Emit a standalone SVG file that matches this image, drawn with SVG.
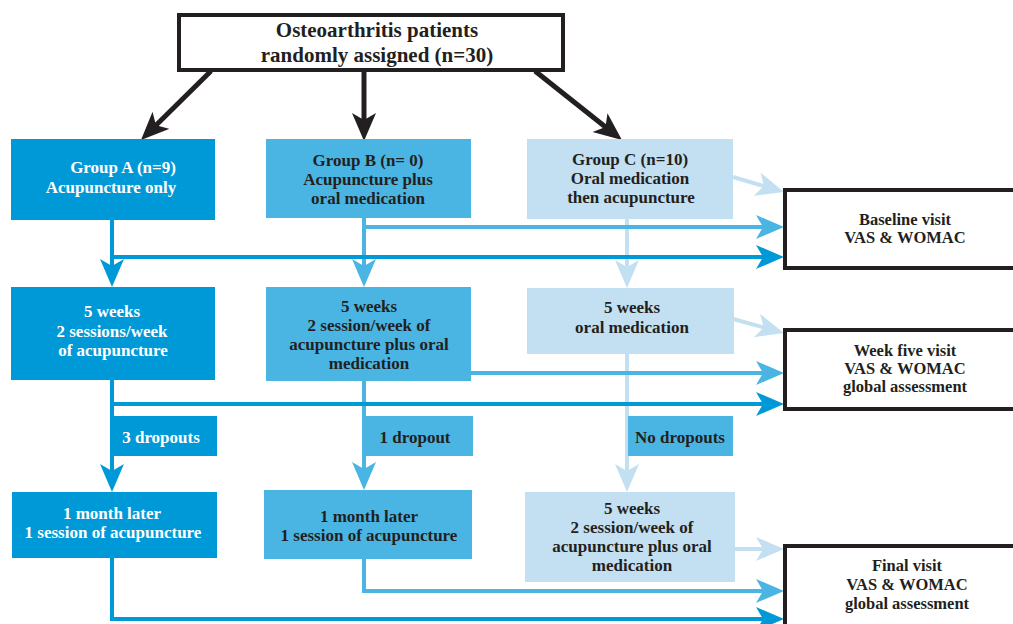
<svg xmlns="http://www.w3.org/2000/svg" width="1013" height="624" viewBox="0 0 1013 624">
<style>
.t{font-family:"Liberation Serif","Times New Roman",serif;font-weight:bold;text-anchor:middle;font-size:17px;fill:#231F20}
.w{fill:#FFFFFF}
.big{font-size:21px}
.v{font-size:16.5px}
.a{fill:#0099D7}
.b{fill:#4AB5E3}
.c{fill:#C3E0F2}
.box{fill:#FFFFFF;stroke:#231F20;stroke-width:4}
.la{fill:none;stroke:#0099D7;stroke-width:4}
.lb{fill:none;stroke:#4AB5E3;stroke-width:4}
.lc{fill:none;stroke:#C3E0F2;stroke-width:4}
.lk{fill:none;stroke:#231F20;stroke-width:5}
</style>
<defs>
<marker id="mA" markerUnits="userSpaceOnUse" markerWidth="30" markerHeight="26" refX="13" refY="12" orient="auto"><path d="M0,0 L28,12 L0,24 L7,12 Z" fill="#0099D7"/></marker>
<marker id="mB" markerUnits="userSpaceOnUse" markerWidth="30" markerHeight="26" refX="13" refY="12" orient="auto"><path d="M0,0 L28,12 L0,24 L7,12 Z" fill="#4AB5E3"/></marker>
<marker id="mC" markerUnits="userSpaceOnUse" markerWidth="30" markerHeight="26" refX="13" refY="12" orient="auto"><path d="M0,0 L28,12 L0,24 L7,12 Z" fill="#C3E0F2"/></marker>
<marker id="mK" markerUnits="userSpaceOnUse" markerWidth="30" markerHeight="26" refX="13" refY="12" orient="auto"><path d="M0,0 L28,12 L0,24 L7,12 Z" fill="#231F20"/></marker>
</defs>

<g id="connectors">
  <!-- black from top -->
  <line class="lk" x1="211" y1="71" x2="151.7" y2="129.5" marker-end="url(#mK)"/>
  <line class="lk" x1="364" y1="71" x2="364" y2="126" marker-end="url(#mK)"/>
  <line class="lk" x1="535" y1="71" x2="610.2" y2="130.7" marker-end="url(#mK)"/>
  <!-- group C (light) -->
  <line class="lc" x1="627" y1="219" x2="627" y2="273" marker-end="url(#mC)"/>
  <line class="lc" x1="627" y1="354" x2="627" y2="477" marker-end="url(#mC)"/>
  <line class="lc" x1="733" y1="177" x2="769.6" y2="187.8" marker-end="url(#mC)"/>
  <line class="lc" x1="733" y1="319" x2="769.5" y2="329" marker-end="url(#mC)"/>
  <line class="lc" x1="735" y1="549" x2="769" y2="549" marker-end="url(#mC)"/>
  <!-- group B (medium) -->
  <line class="lb" x1="364" y1="218" x2="364" y2="272" marker-end="url(#mB)"/>
  <line class="lb" x1="364" y1="381" x2="364" y2="475" marker-end="url(#mB)"/>
  <line class="lb" x1="362" y1="227" x2="769" y2="227" marker-end="url(#mB)"/>
  <line class="lb" x1="471" y1="373" x2="769" y2="373" marker-end="url(#mB)"/>
  <path class="lb" d="M364,559 V591 H769" marker-end="url(#mB)"/>
  <!-- group A (dark) -->
  <line class="la" x1="112" y1="220" x2="112" y2="272" marker-end="url(#mA)"/>
  <line class="la" x1="112" y1="380" x2="112" y2="477" marker-end="url(#mA)"/>
  <line class="la" x1="110" y1="257" x2="769" y2="257" marker-end="url(#mA)"/>
  <line class="la" x1="110" y1="404" x2="769" y2="404" marker-end="url(#mA)"/>
  <path class="la" d="M112,558 V619 H769" marker-end="url(#mA)"/>
</g>

<g id="top">
  <rect class="box" x="179" y="15" width="384" height="55"/>
  <text class="t big" x="377" y="37">Osteoarthritis patients</text>
  <text class="t big" x="377" y="62">randomly assigned (n=30)</text>
</g>

<g id="groupA">
  <rect class="a" x="11" y="139" width="204" height="81"/>
  <text class="t w" x="123" y="173">Group A (n=9)</text>
  <text class="t w" x="111" y="193">Acupuncture only</text>
</g>
<g id="groupB">
  <rect class="b" x="266" y="139" width="205" height="79"/>
  <text class="t" x="368" y="166">Group B (n= 0)</text>
  <text class="t" x="368" y="185">Acupuncture plus</text>
  <text class="t" x="368" y="204">oral medication</text>
</g>
<g id="groupC">
  <rect class="c" x="527" y="139" width="206" height="80"/>
  <text class="t" x="630" y="165">Group C (n=10)</text>
  <text class="t" x="630" y="184">Oral medication</text>
  <text class="t" x="631" y="203">then acupuncture</text>
</g>

<g id="a2">
  <rect class="a" x="11" y="287" width="204" height="93"/>
  <text class="t w" x="112" y="317">5 weeks</text>
  <text class="t w" x="112" y="337">2 sessions/week</text>
  <text class="t w" x="113" y="356">of acupuncture</text>
</g>
<g id="b2">
  <rect class="b" x="266" y="287" width="205" height="94"/>
  <text class="t" x="369" y="312">5 weeks</text>
  <text class="t" x="369" y="331">2 session/week of</text>
  <text class="t" x="369" y="350">acupuncture plus oral</text>
  <text class="t" x="369" y="369">medication</text>
</g>
<g id="c2">
  <rect class="c" x="527" y="288" width="207" height="66"/>
  <text class="t" x="632" y="313">5 weeks</text>
  <text class="t" x="632" y="333">oral medication</text>
</g>

<g id="dropA">
  <rect class="a" x="112" y="416" width="105" height="40"/>
  <text class="t w" x="161" y="443">3 dropouts</text>
</g>
<g id="dropB">
  <rect class="b" x="362" y="416" width="111" height="40"/>
  <text class="t" x="415" y="443">1 dropout</text>
</g>
<g id="dropC">
  <rect class="b" x="628" y="416" width="105" height="40"/>
  <text class="t" x="680" y="443">No dropouts</text>
</g>

<g id="a3">
  <rect class="a" x="12" y="492" width="205" height="66"/>
  <text class="t w" x="112" y="519">1 month later</text>
  <text class="t w" x="113" y="538">1 session of acupuncture</text>
</g>
<g id="b3">
  <rect class="b" x="264" y="490" width="208" height="69"/>
  <text class="t" x="369" y="522">1 month later</text>
  <text class="t" x="369" y="541">1 session of acupuncture</text>
</g>
<g id="c3">
  <rect class="c" x="525" y="492" width="210" height="90"/>
  <text class="t" x="632" y="514">5 weeks</text>
  <text class="t" x="632" y="533">2 session/week of</text>
  <text class="t" x="632" y="552">acupuncture plus oral</text>
  <text class="t" x="632" y="571">medication</text>
</g>

<g id="baseline">
  <rect class="box" x="785" y="190" width="240" height="78"/>
  <text class="t v" x="905" y="225">Baseline visit</text>
  <text class="t v" x="905" y="243">VAS &amp; WOMAC</text>
</g>
<g id="week5">
  <rect class="box" x="785" y="330" width="240" height="79"/>
  <text class="t v" x="905" y="356">Week five visit</text>
  <text class="t v" x="905" y="374">VAS &amp; WOMAC</text>
  <text class="t v" x="905" y="392">global assessment</text>
</g>
<g id="final">
  <rect class="box" x="785" y="546" width="240" height="100"/>
  <text class="t v" x="907" y="571">Final visit</text>
  <text class="t v" x="907" y="590">VAS &amp; WOMAC</text>
  <text class="t v" x="907" y="609">global assessment</text>
</g>
</svg>
